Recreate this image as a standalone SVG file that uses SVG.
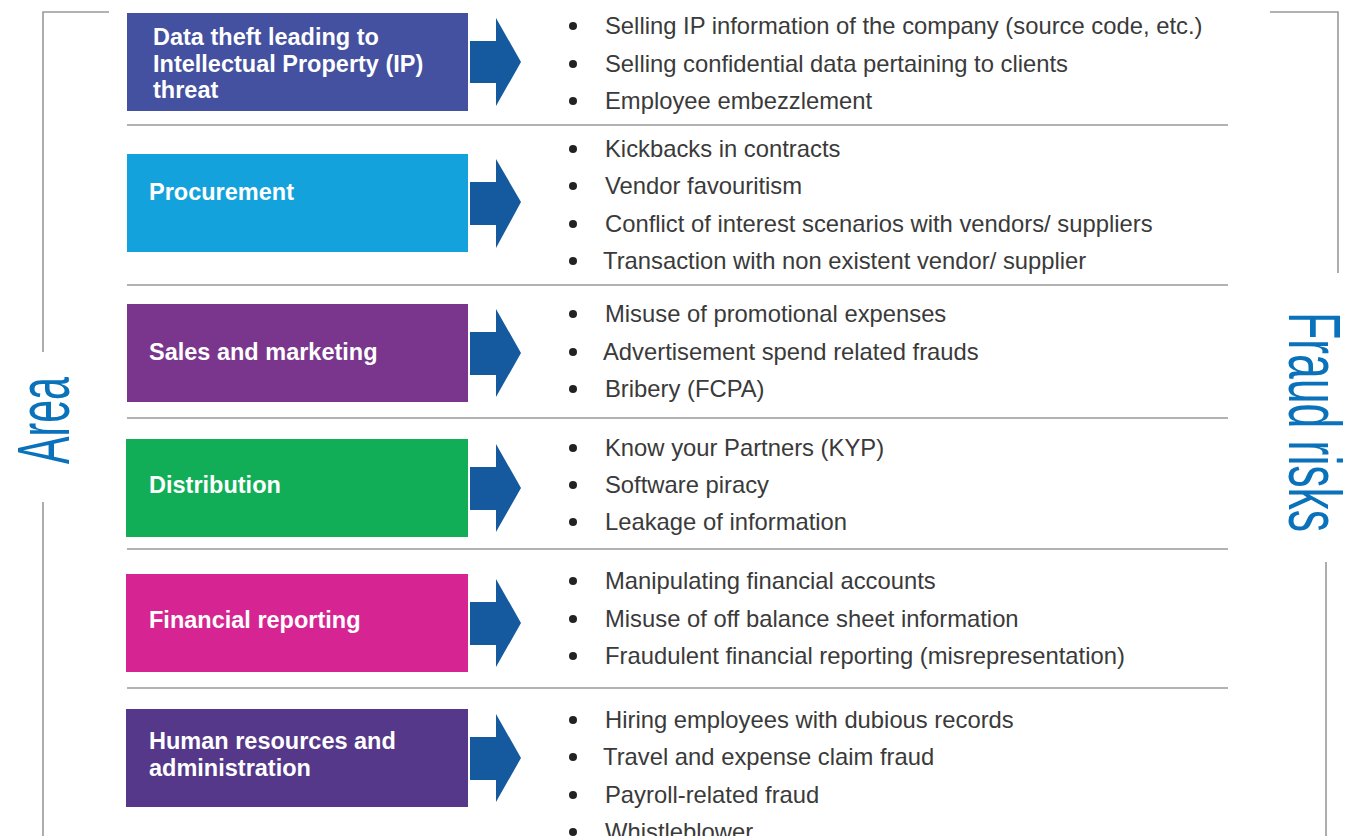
<svg xmlns="http://www.w3.org/2000/svg" width="1355" height="836" viewBox="0 0 1355 836">
<defs>
<style>
.lbl{font-family:"Liberation Sans",Arial,sans-serif;font-weight:bold;font-size:23.5px;fill:#fff}
.item{font-family:"Liberation Sans",Arial,sans-serif;font-size:23.8px;fill:#3a3a3a}
.dot{fill:#222}
.frame{stroke:#999;stroke-width:1.6;fill:none}
.div{stroke:#999;stroke-width:1.3}
.arr{fill:#155A9E}
.side{font-family:"Liberation Sans Narrow","Liberation Sans",sans-serif;font-size:74px;fill:#0A72BA}
</style>
</defs>
<rect width="1355" height="836" fill="#fff"/>
<g id="frame">
<polyline class="frame" points="109,12 43,12 43,352"/>
<line class="frame" x1="43" y1="502" x2="43" y2="836"/>
<polyline class="frame" points="1270,12 1338,12 1338,273"/>
<line class="frame" x1="1326" y1="562" x2="1326" y2="836"/>
<text class="side" transform="translate(69,464) rotate(-90)" textLength="87" lengthAdjust="spacingAndGlyphs">Area</text>
<text class="side" transform="translate(1289,312) rotate(90)" textLength="220" lengthAdjust="spacingAndGlyphs">Fraud risks</text>
</g>
<g id="connectors">
<line class="div" x1="127" y1="125" x2="1228" y2="125"/>
<line class="div" x1="127" y1="285" x2="1228" y2="285"/>
<line class="div" x1="127" y1="418" x2="1228" y2="418"/>
<line class="div" x1="127" y1="549" x2="1228" y2="549"/>
<line class="div" x1="127" y1="688" x2="1228" y2="688"/>
<g class="arr">
<polygon points="470,41 496,41 496,18 521,62 496,106 496,83 470,83"/>
<polygon points="470,182 496,182 496,159 521,202 496,248 496,225 470,225"/>
<polygon points="470,332 496,332 496,309 521,353 496,397 496,375 470,375"/>
<polygon points="470,467 496,467 496,444 521,488 496,532 496,510 470,510"/>
<polygon points="470,602 496,602 496,579 521,623 496,667 496,645 470,645"/>
<polygon points="470,737 496,737 496,714 521,758 496,802 496,780 470,780"/>
</g>
</g>
<g id="n1">
<rect x="127" y="13" width="341" height="98" fill="#4450A0"/>
<text class="lbl" x="153" y="45">Data theft leading to</text>
<text class="lbl" x="153" y="72">Intellectual Property (IP)</text>
<text class="lbl" x="153" y="98">threat</text>
</g>
<g id="n2">
<rect x="127" y="154" width="341" height="98" fill="#14A2DD"/>
<text class="lbl" x="149" y="200">Procurement</text>
</g>
<g id="n3">
<rect x="127" y="304" width="341" height="98" fill="#7A368C"/>
<text class="lbl" x="149" y="360">Sales and marketing</text>
</g>
<g id="n4">
<rect x="126" y="439" width="342" height="98" fill="#12AE57"/>
<text class="lbl" x="149" y="493">Distribution</text>
</g>
<g id="n5">
<rect x="126" y="574" width="342" height="98" fill="#D62592"/>
<text class="lbl" x="149" y="628">Financial reporting</text>
</g>
<g id="n6">
<rect x="126" y="709" width="342" height="98" fill="#553889"/>
<text class="lbl" x="149" y="749">Human resources and</text>
<text class="lbl" x="149" y="776">administration</text>
</g>
<g id="risks1">
<circle class="dot" cx="573" cy="26" r="4"/><text class="item" x="605" y="34">Selling IP information of the company (source code, etc.)</text>
<circle class="dot" cx="573" cy="64" r="4"/><text class="item" x="605" y="72">Selling confidential data pertaining to clients</text>
<circle class="dot" cx="573" cy="101" r="4"/><text class="item" x="605" y="109">Employee embezzlement</text>
</g>
<g id="risks2">
<circle class="dot" cx="573" cy="149" r="4"/><text class="item" x="605" y="157">Kickbacks in contracts</text>
<circle class="dot" cx="573" cy="186" r="4"/><text class="item" x="605" y="194">Vendor favouritism</text>
<circle class="dot" cx="573" cy="224" r="4"/><text class="item" x="605" y="232">Conflict of interest scenarios with vendors/ suppliers</text>
<circle class="dot" cx="573" cy="261" r="4"/><text class="item" x="603" y="269">Transaction with non existent vendor/ supplier</text>
</g>
<g id="risks3">
<circle class="dot" cx="573" cy="314" r="4"/><text class="item" x="605" y="322">Misuse of promotional expenses</text>
<circle class="dot" cx="573" cy="352" r="4"/><text class="item" x="603" y="360">Advertisement spend related frauds</text>
<circle class="dot" cx="573" cy="389" r="4"/><text class="item" x="605" y="397">Bribery (FCPA)</text>
</g>
<g id="risks4">
<circle class="dot" cx="573" cy="448" r="4"/><text class="item" x="605" y="456">Know your Partners (KYP)</text>
<circle class="dot" cx="573" cy="485" r="4"/><text class="item" x="605" y="493">Software piracy</text>
<circle class="dot" cx="573" cy="522" r="4"/><text class="item" x="605" y="530">Leakage of information</text>
</g>
<g id="risks5">
<circle class="dot" cx="573" cy="581" r="4"/><text class="item" x="605" y="589">Manipulating financial accounts</text>
<circle class="dot" cx="573" cy="619" r="4"/><text class="item" x="605" y="627">Misuse of off balance sheet information</text>
<circle class="dot" cx="573" cy="656" r="4"/><text class="item" x="605" y="664">Fraudulent financial reporting (misrepresentation)</text>
</g>
<g id="risks6">
<circle class="dot" cx="573" cy="720" r="4"/><text class="item" x="605" y="728">Hiring employees with dubious records</text>
<circle class="dot" cx="573" cy="757" r="4"/><text class="item" x="603" y="765">Travel and expense claim fraud</text>
<circle class="dot" cx="573" cy="795" r="4"/><text class="item" x="605" y="803">Payroll-related fraud</text>
<circle class="dot" cx="573" cy="832" r="4"/><text class="item" x="605" y="840">Whistleblower</text>
</g>
</svg>
